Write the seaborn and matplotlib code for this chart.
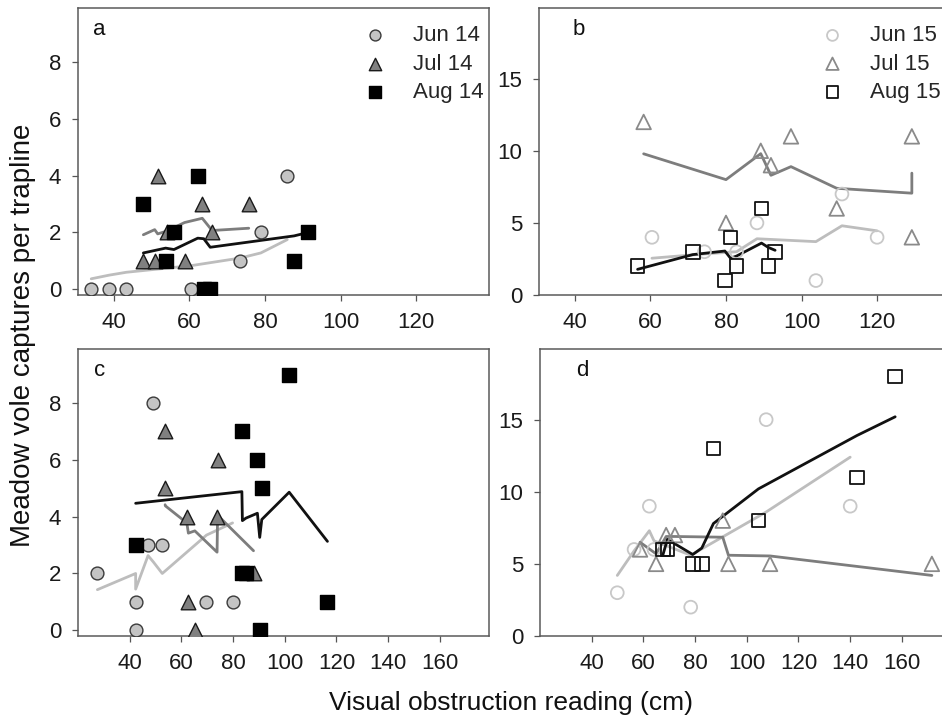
import matplotlib
matplotlib.use("Agg")
import matplotlib.pyplot as plt
import seaborn as sns

# panel a: 2014, grid 1
a_jun_x = [34.0, 38.8, 43.3, 60.3, 73.4, 78.9, 85.9]
a_jun_y = [0, 0, 0, 0, 1, 2, 4]
a_jul_x = [47.8, 50.8, 51.6, 54.0, 58.7, 63.4, 66.0, 75.7]
a_jul_y = [1, 1, 4, 2, 1, 3, 2, 3]
a_aug_x = [47.8, 53.7, 55.9, 62.2, 63.8, 65.5, 87.7, 91.4]
a_aug_y = [3, 1, 2, 4, 0, 0, 1, 2]
a_jun_fit = [0.37, 0.5, 0.6, 0.83, 1.1, 1.28, 1.75]
a_jul_fit = [1.92, 2.1, 1.95, 2.05, 2.35, 2.5, 2.07, 2.15]
a_aug_fit = [1.28, 1.45, 1.4, 1.8, 1.78, 1.48, 1.88, 2.0]

# panel b: 2015, grid 1
b_jun_x = [60.4, 74.3, 82.8, 88.2, 103.8, 110.7, 120.0]
b_jun_y = [4, 3, 3, 5, 1, 7, 4]
b_jul_x = [58.2, 80.0, 89.2, 91.9, 97.2, 109.3, 129.2, 129.2]
b_jul_y = [12, 5, 10, 9, 11, 6, 11, 4]
b_aug_x = [56.6, 71.2, 79.7, 81.2, 82.8, 89.4, 91.2, 93.0]
b_aug_y = [2, 3, 1, 4, 2, 6, 2, 3]
b_jun_fit = [2.55, 2.85, 3.0, 3.9, 3.7, 4.8, 4.45]
b_jul_fit = [9.79, 8.0, 9.8, 8.3, 8.9, 7.4, 7.06, 8.45]
b_aug_fit = [1.78, 2.8, 3.05, 2.55, 2.7, 3.6, 3.3, 3.1]

# panel c: 2014, grid 2
c_jun_x = [27.5, 42.3, 42.3, 47.1, 49.2, 52.6, 69.7, 79.8]
c_jun_y = [2, 1, 0, 3, 8, 3, 1, 1]
c_jul_x = [53.7, 53.8, 62.1, 62.7, 65.2, 73.8, 74.0, 87.9]
c_jul_y = [7, 5, 4, 1, 0, 4, 6, 2]
c_aug_x = [42.3, 83.4, 83.6, 85.0, 89.4, 90.3, 91.1, 101.7, 116.5]
c_aug_y = [3, 2, 7, 2, 6, 0, 5, 9, 1]
c_jun_fit = [1.43, 2.0, 1.45, 2.63, 2.4, 2.0, 3.35, 3.78]
c_jul_fit = [4.42, 4.38, 3.78, 3.42, 3.5, 2.75, 4.05, 2.8]
c_aug_fit = [4.47, 4.88, 3.86, 3.95, 4.12, 3.27, 3.9, 4.86, 3.13]

# panel d: 2015, grid 2
d_jun_x = [49.9, 56.4, 62.3, 64.1, 78.3, 107.5, 140.0]
d_jun_y = [3, 6, 9, 6, 2, 15, 9]
d_jul_x = [58.7, 64.9, 68.8, 72.2, 90.7, 92.9, 109.0, 171.6]
d_jul_y = [6, 5, 7, 7, 8, 5, 5, 5]
d_aug_x = [67.5, 69.3, 79.1, 82.6, 87.1, 104.5, 142.6, 157.4]
d_aug_y = [6, 6, 5, 5, 13, 8, 11, 18]
d_jun_fit = [4.2, 5.9, 7.3, 6.6, 5.6, 8.6, 12.4]
d_jul_fit = [6.5, 5.7, 6.9, 6.9, 6.85, 5.6, 5.55, 4.2]
d_aug_fit = [5.6, 6.7, 5.65, 6.1, 7.8, 10.2, 13.9, 15.2]

labels_14 = ["Jun 14", "Jul 14", "Aug 14"]
labels_15 = ["Jun 15", "Jul 15", "Aug 15"]

sns.set_style("white")
plt.rcParams["font.family"] = ["Liberation Sans", "DejaVu Sans"]

line_cols = ["#bdbdbd", "#7d7d7d", "#111111"]
markers = ["o", "^", "s"]
# 2014 filled, 2015 open
face_14 = ["#c4c4c4", "#808080", "#000000"]
edge_14 = ["#3a3a3a", "#1a1a1a", "#000000"]
edge_15 = ["#c8c8c8", "#8a8a8a", "#111111"]


def draw_panel(ax, xs, ys, fits, filled, labels=None):
    for i in range(3):
        sns.lineplot(x=xs[i], y=fits[i], ax=ax, sort=False, estimator=None,
                     color=line_cols[i], linewidth=2.0, zorder=2)
    handles = []
    for i in range(3):
        if filled:
            fc, ec, lw = face_14[i], edge_14[i], 1.0
        else:
            fc, ec, lw = "none", edge_15[i], 1.3
        sz = 85 if markers[i] == "o" else 95
        if markers[i] == "^":
            sz = 110
        sns.scatterplot(x=xs[i], y=ys[i], ax=ax, marker=markers[i], s=sz,
                        color=fc, edgecolor=ec, linewidth=lw, zorder=3,
                        label=labels[i] if labels else None, legend=False)
        handles.append(ax.collections[-1])
    if labels:
        return handles
    return None


fig = plt.figure(figsize=(9.42, 7.21), dpi=100)
W, H = 942, 721
ax_a = fig.add_axes([78 / W, 426 / H, 411 / W, 287 / H])
ax_b = fig.add_axes([539 / W, 426 / H, 411 / W, 287 / H])
ax_c = fig.add_axes([78 / W, 85 / H, 411 / W, 287 / H])
ax_d = fig.add_axes([540 / W, 85 / H, 411 / W, 287 / H])

h_a = draw_panel(ax_a, [a_jun_x, a_jul_x, a_aug_x], [a_jun_y, a_jul_y, a_aug_y],
                 [a_jun_fit, a_jul_fit, a_aug_fit], True, labels_14)
h_b = draw_panel(ax_b, [b_jun_x, b_jul_x, b_aug_x], [b_jun_y, b_jul_y, b_aug_y],
                 [b_jun_fit, b_jul_fit, b_aug_fit], False, labels_15)
draw_panel(ax_c, [c_jun_x, c_jul_x, c_aug_x], [c_jun_y, c_jul_y, c_aug_y],
           [c_jun_fit, c_jul_fit, c_aug_fit], True)
draw_panel(ax_d, [d_jun_x, d_jul_x, d_aug_x], [d_jun_y, d_jul_y, d_aug_y],
           [d_jun_fit, d_jul_fit, d_aug_fit], False)

for ax in [ax_a, ax_c]:
    ax.set_ylim(-0.2, 9.9)
    ax.set_yticks([0, 2, 4, 6, 8])
for ax in [ax_b, ax_d]:
    ax.set_ylim(0, 19.9)
    ax.set_yticks([0, 5, 10, 15])
for ax in [ax_a, ax_b]:
    ax.set_xlim(30.5, 139.3)
    ax.set_xticks([40, 60, 80, 100, 120])
for ax in [ax_c, ax_d]:
    ax.set_xlim(20, 179)
    ax.set_xticks([40, 60, 80, 100, 120, 140, 160])

for ax, letter, lx in [(ax_a, "a", 0.036), (ax_b, "b", 0.082),
                       (ax_c, "c", 0.039), (ax_d, "d", 0.088)]:
    ax.set_xlabel("")
    ax.set_ylabel("")
    ax.text(lx, 0.925, letter, transform=ax.transAxes, fontsize=16,
            ha="left", va="center", color="#111111")
    ax.tick_params(axis="both", direction="out", length=4, width=0.9,
                   color="#555555", pad=8, labelsize=16, labelcolor="#1a1a1a",
                   bottom=True, left=True)
    for sp in ax.spines.values():
        sp.set_color("#5a5a5a")
        sp.set_linewidth(1.1)

leg_kw = dict(frameon=False, loc="upper left", fontsize=16, borderpad=0,
              borderaxespad=0, handlelength=1.0, handletextpad=1.2,
              labelspacing=0.33, scatterpoints=1, markerscale=0.85)
ax_a.legend(h_a, labels_14, bbox_to_anchor=(0.696, 0.94), **leg_kw)
ax_b.legend(h_b, labels_15, bbox_to_anchor=(0.687, 0.94), **leg_kw)

fig.text(0.024, 0.535, "Meadow vole captures per trapline", rotation=90,
         ha="center", va="center", fontsize=20, color="#111111")
fig.text(0.5425, 0.025, "Visual obstruction reading (cm)",
         ha="center", va="center", fontsize=19, color="#111111")

fig.savefig("out.png", dpi=100)
